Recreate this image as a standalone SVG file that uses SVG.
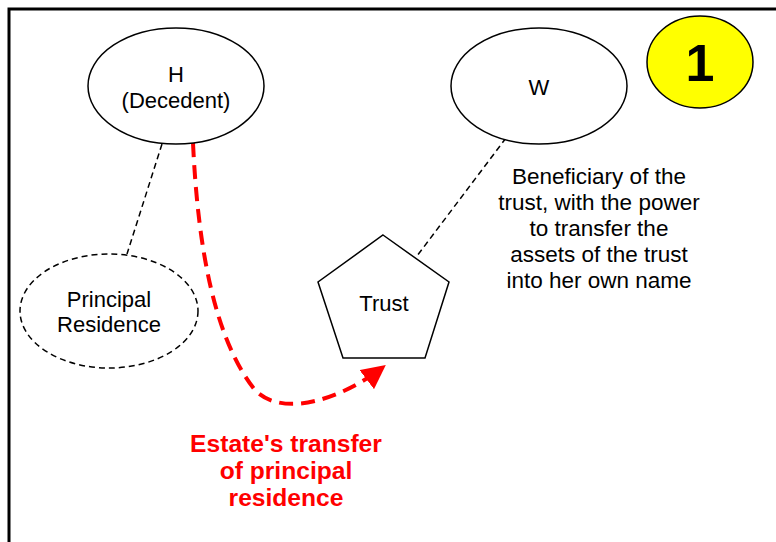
<svg xmlns="http://www.w3.org/2000/svg" width="776" height="542" viewBox="0 0 776 542">
<style>
text{font-family:"Liberation Sans",Arial,sans-serif;font-size:22px;fill:#000;text-anchor:middle}
.node{fill:#fff;stroke:#000;stroke-width:1.5}
.dash{fill:none;stroke:#000;stroke-width:1.5;stroke-dasharray:6 4}
.red{font-weight:bold;font-size:24.6px;fill:#ff0000}
.note{font-size:22.5px}
</style>
<defs>
<marker id="ah" viewBox="0 0 10 10" refX="8" refY="5" markerWidth="6" markerHeight="6" markerUnits="strokeWidth" orient="auto">
<path d="M0,0 L10,5 L0,10 Z" fill="#ff0000"/>
</marker>
</defs>
<rect x="0" y="0" width="776" height="542" fill="#fff"/>
<rect x="9" y="9" width="900" height="700" fill="none" stroke="#000" stroke-width="3"/>
<g id="connectors">
<line class="dash" x1="162" y1="144" x2="127" y2="254"/>
<line class="dash" x1="506" y1="138" x2="417" y2="256"/>
<path d="M193,143 C198,250 215,340 255,390 C282,418 340,400 382,368" fill="none" stroke="#ff0000" stroke-width="4" stroke-dasharray="14 8" marker-end="url(#ah)"/>
</g>
<g id="H">
<ellipse class="node" cx="176" cy="86" rx="88" ry="58"/>
<text x="176" y="82">H</text>
<text x="176" y="108">(Decedent)</text>
</g>
<g id="W">
<ellipse class="node" cx="539" cy="86" rx="88" ry="58"/>
<text x="539" y="95">W</text>
</g>
<g id="badge">
<ellipse cx="700" cy="62" rx="53" ry="46" fill="#ffff00" stroke="#000" stroke-width="1.5"/>
<text x="700" y="81" style="font-size:52px;font-weight:bold">1</text>
</g>
<g id="residence">
<ellipse class="dash" cx="109" cy="311" rx="89" ry="57"/>
<text x="109" y="307">Principal</text>
<text x="109" y="332">Residence</text>
</g>
<g id="trust">
<polygon class="node" points="383,235 449,282 425,358 343,358 318,282"/>
<text x="384" y="311">Trust</text>
</g>
<g id="beneficiary-note">
<text class="note" x="599" y="184">Beneficiary of the</text>
<text class="note" x="599" y="210">trust, with the power</text>
<text class="note" x="599" y="236">to transfer the</text>
<text class="note" x="599" y="262">assets of the trust</text>
<text class="note" x="599" y="288">into her own name</text>
</g>
<g id="transfer-label">
<text class="red" x="286" y="452">Estate's transfer</text>
<text class="red" x="286" y="479">of principal</text>
<text class="red" x="286" y="506">residence</text>
</g>
</svg>
